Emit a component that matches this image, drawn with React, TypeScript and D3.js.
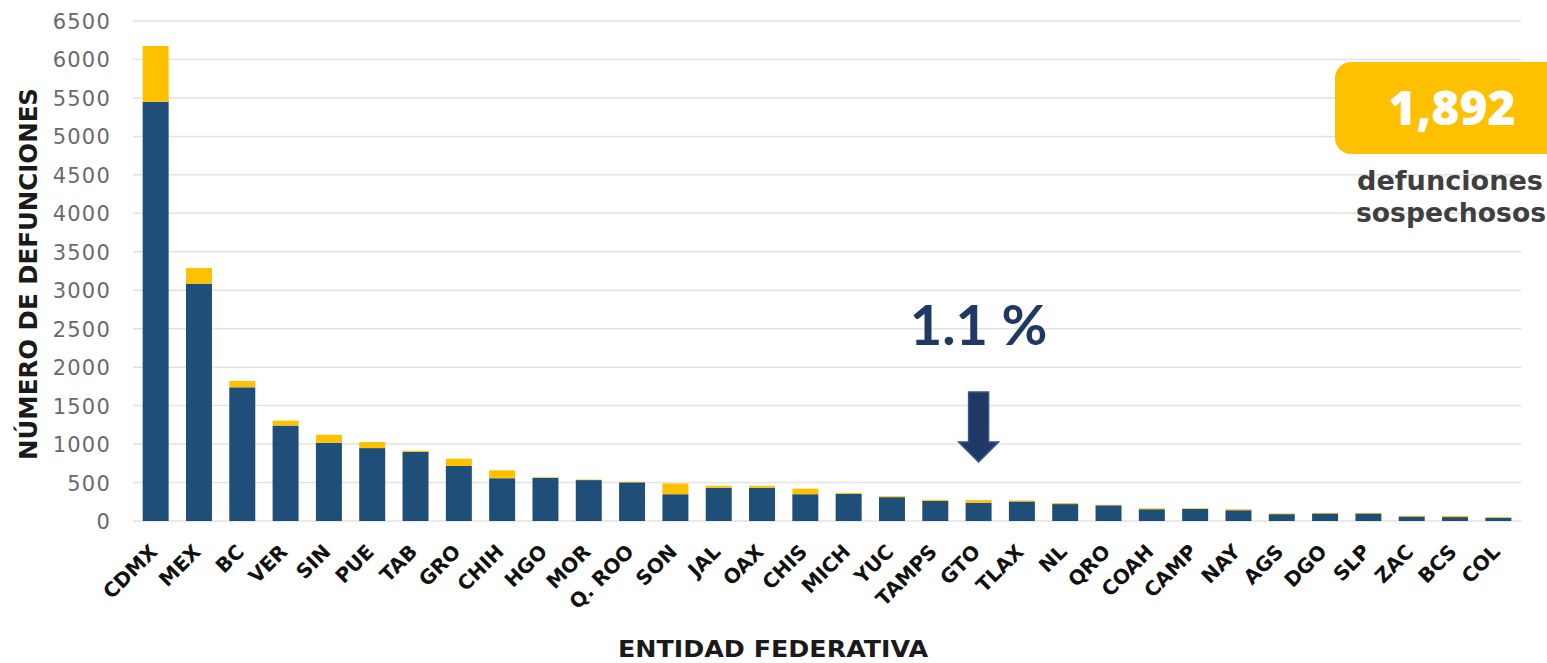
import React from "react";
import * as d3 from "d3";

const states = ["CDMX","MEX","BC","VER","SIN","PUE","TAB","GRO","CHIH","HGO","MOR","Q. ROO","SON","JAL","OAX","CHIS","MICH","YUC","TAMPS","GTO","TLAX","NL","QRO","COAH","CAMP","NAY","AGS","DGO","SLP","ZAC","BCS","COL"];
const confirmed = [5450,3085,1738,1241,1017,948,900,715,556,560,532,502,348,432,432,348,352,310,263,237,254,220,204,153,157,140,89,98,98,59,51,42];
const suspected = [725,205,83,63,104,78,14,95,103,9,7,8,140,26,26,72,13,12,13,34,13,13,8,12,8,13,9,8,8,9,13,9];
const yTicks = [0,500,1000,1500,2000,2500,3000,3500,4000,4500,5000,5500,6000,6500];
const totalSuspected = "1,892";
const pctLabel = "1.1 %";
const pointedState = "GTO";

const W = 1547, H = 663;
const BLUE = "#1F4E79", YELLOW = "#FFC000";

export default function App() {
  const x = d3.scaleBand<string>().domain(states).range([134, 1520]).paddingInner(0.4).paddingOuter(0.2);
  const y = d3.scaleLinear().domain([0, 6500]).range([521, 21]);
  const bw = x.bandwidth();
  const ax = (x(pointedState) as number) + bw / 2;
  return (
    <svg width={W} height={H} style={{ position: "absolute", left: 0, top: 0, background: "#fff" }}>
      {yTicks.map(t => (
        <g key={t}>
          <line x1={133} x2={1521} y1={y(t)} y2={y(t)} stroke="#e2e2e2" strokeWidth={1.5} />
          <text x={111} y={y(t) + 8} textAnchor="end" fontFamily="DejaVu Sans" fontSize={21} fill="#6a6a6a" letterSpacing={1.2}>{t}</text>
        </g>
      ))}
      {states.map((s, i) => {
        const x0 = x(s) as number;
        const c = confirmed[i], sp = suspected[i];
        return (
          <g key={s}>
            <rect x={x0} width={bw} y={y(c)} height={y(0) - y(c)} fill={BLUE} />
            <rect x={x0} width={bw} y={y(c + sp)} height={y(c) - y(c + sp)} fill={YELLOW} />
            <text transform={`translate(${x0 + bw / 2 + 3},553) rotate(-45)`} textAnchor="end" fontFamily="DejaVu Sans" fontWeight="bold" fontSize={20} fill="#111">{s}</text>
          </g>
        );
      })}
      <text transform="translate(37,274) rotate(-90)" textAnchor="middle" fontFamily="DejaVu Sans" fontWeight="bold" fontSize={24} fill="#1a1a1a" textLength={372} lengthAdjust="spacingAndGlyphs">NÚMERO DE DEFUNCIONES</text>
      <text x={773} y={657} textAnchor="middle" fontFamily="DejaVu Sans" fontWeight="bold" fontSize={23} fill="#1a1a1a" textLength={310} lengthAdjust="spacingAndGlyphs">ENTIDAD FEDERATIVA</text>
      <rect x={1335} y={62} width={240} height={92} rx={16} fill={YELLOW} />
      <text x={1452} y={125} textAnchor="middle" fontFamily="Open Sans" fontWeight={800} fontSize={48} fill="#fff">{totalSuspected}</text>
      <text x={1450} y={190} textAnchor="middle" fontFamily="DejaVu Sans" fontWeight="bold" fontSize={26} fill="#3f3f3f" textLength={186} lengthAdjust="spacingAndGlyphs">defunciones</text>
      <text x={1451} y={222} textAnchor="middle" fontFamily="DejaVu Sans" fontWeight="bold" fontSize={26} fill="#3f3f3f" textLength={190} lengthAdjust="spacingAndGlyphs">sospechosos</text>
      <text x={ax} y={345} textAnchor="middle" fontFamily="Lato" fontWeight={700} fontSize={56} fill="#203864">{pctLabel}</text>
      <path d={`M${ax - 10},392 L${ax + 10},392 L${ax + 10},442 L${ax + 20},442 L${ax},462 L${ax - 20},442 L${ax - 10},442 Z`} fill="#203864" stroke="#2F5597" strokeWidth={1.5} />
    </svg>
  );
}
